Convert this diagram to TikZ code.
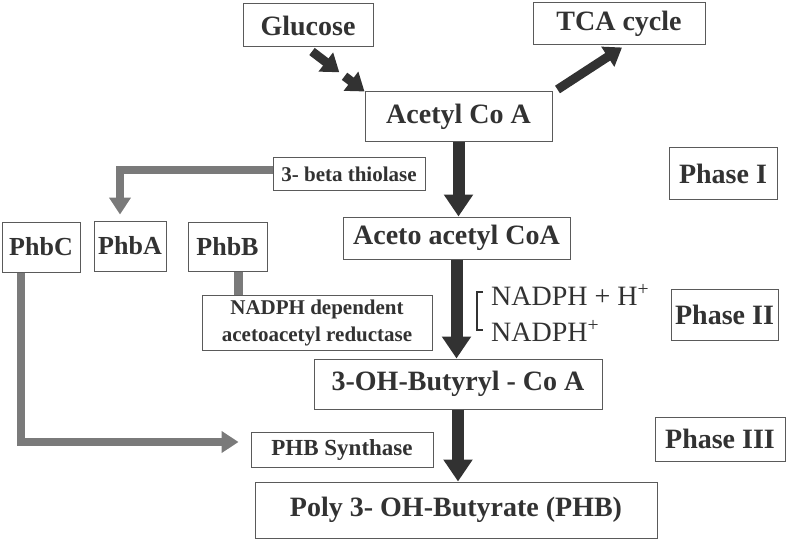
\documentclass[tikz,border=0pt]{standalone}
\usepackage{fontspec}
\setmainfont{Liberation Serif}
\usepackage{xcolor}
\usepackage{tikz}
\usetikzlibrary{arrows.meta,positioning,calc}

\definecolor{inkgray}{RGB}{50,50,50}
\definecolor{boxgray}{RGB}{90,90,90}
\definecolor{flowgray}{RGB}{122,122,122}

\tikzset{
    box/.style={draw=boxgray, line width=1pt, fill=white, text=inkgray, inner sep=0pt, align=center,
        font=\bfseries\fontsize{28}{30}\selectfont},
    smallbox/.style={box, font=\bfseries\fontsize{21}{27}\selectfont},
    genebox/.style={box, font=\bfseries\fontsize{26}{28}\selectfont},
    mainarrow/.style={draw=inkgray, line width=12pt, -{Triangle[length=22pt,width=28pt]}},
    feedarrow/.style={draw=inkgray, line width=9pt, -{Triangle[length=17pt,width=23pt]}},
    sidearrow/.style={draw=flowgray, line width=8pt, -{Triangle[length=17pt,width=21pt]}},
    sideline/.style={draw=flowgray, line width=9pt},
    cofactor/.style={inner sep=0pt, text=inkgray, font=\fontsize{28}{30}\selectfont, anchor=base west}
}

\begin{document}
\begin{tikzpicture}[x=1pt, y=-1pt]
    \useasboundingbox (0,0) rectangle (786,540);

    % Main pathway
    \node[box, minimum width=130, minimum height=43] (glucose) at (308,25.5) {Glucose};
    \node[box, minimum width=172, minimum height=42] (tca) at (619,24) {TCA cycle};
    \node[box, minimum width=187, minimum height=50] (acetyl) at (458.5,117) {Acetyl Co A};
    \node[box, minimum width=227, minimum height=42] (aceto) at (456.5,238) {Aceto acetyl CoA};
    \node[box, minimum width=288, minimum height=50] (butyryl) at (458,384) {3-OH-Butyryl - Co A};
    \node[box, minimum width=402, minimum height=56] (poly) at (456,510) {Poly 3- OH-Butyrate (PHB)};

    % Enzymes and genes
    \node[smallbox, minimum width=152, minimum height=32] (thiolase) at (349,174) {3- beta thiolase};
    \node[smallbox, minimum width=230, minimum height=55] (reductase) at (317,322.5) {NADPH dependent\\acetoacetyl reductase};
    \node[box, minimum width=182, minimum height=35, font=\bfseries\fontsize{23}{25}\selectfont] (synthase) at (342,449.5) {PHB Synthase};
    \node[genebox, minimum width=78, minimum height=50] (phbc) at (41,247) {PhbC};
    \node[genebox, minimum width=72, minimum height=50] (phba) at (130,246) {PhbA};
    \node[genebox, minimum width=79, minimum height=49] (phbb) at (227.5,246.5) {PhbB};

    % Phases
    \node[box, minimum width=108, minimum height=51] (phase1) at (723,173.5) {Phase I};
    \node[box, minimum width=107, minimum height=51] (phase2) at (724.5,314.5) {Phase II};
    \node[box, minimum width=130, minimum height=44] (phase3) at (720,439) {Phase III};

    % Cofactors
    \node[cofactor] (nadph1) at (491,305) {NADPH + H\textsuperscript{+}};
    \node[cofactor] (nadph2) at (491,341) {NADPH\textsuperscript{+}};
    \draw[inkgray, line width=1.3pt] ($(nadph1.west)+(-8,-3)$) -- ++(-6,0) |- ($(nadph2.west)+(-8,-1)$);

    % Glucose in, TCA out
    \coordinate (gin) at ($(glucose.south)+(4,4)$);
    \draw[feedarrow] (gin) -- ($(gin)!0.52!(acetyl.north west)$);
    \draw[feedarrow] ($(gin)!0.62!(acetyl.north west)$) -- (acetyl.north west);
    \draw[feedarrow] ($(acetyl.north east)+(5,-2)$) -- ($(tca.south)+(3,2)$);

    % Main arrows
    \draw[mainarrow] (acetyl.south) -- (acetyl.south |- aceto.north);
    \draw[mainarrow] (aceto.south) -- (aceto.south |- butyryl.north);
    \draw[mainarrow] (butyryl.south) -- (butyryl.south |- poly.north);

    % Gene links
    \draw[sidearrow] ($(thiolase.west)+(0,-4)$) -| ($(phba.north)+(-10,-6)$);
    \draw[sideline] ($(phbb.south)+(11,0)$) -- ($(phbb.south |- reductase.north)+(11,0)$);
    \draw[sidearrow] ($(phbc.south west)+(19,0)$) |- ($(synthase.west)+(-12,-7.5)$);
\end{tikzpicture}
\end{document}
